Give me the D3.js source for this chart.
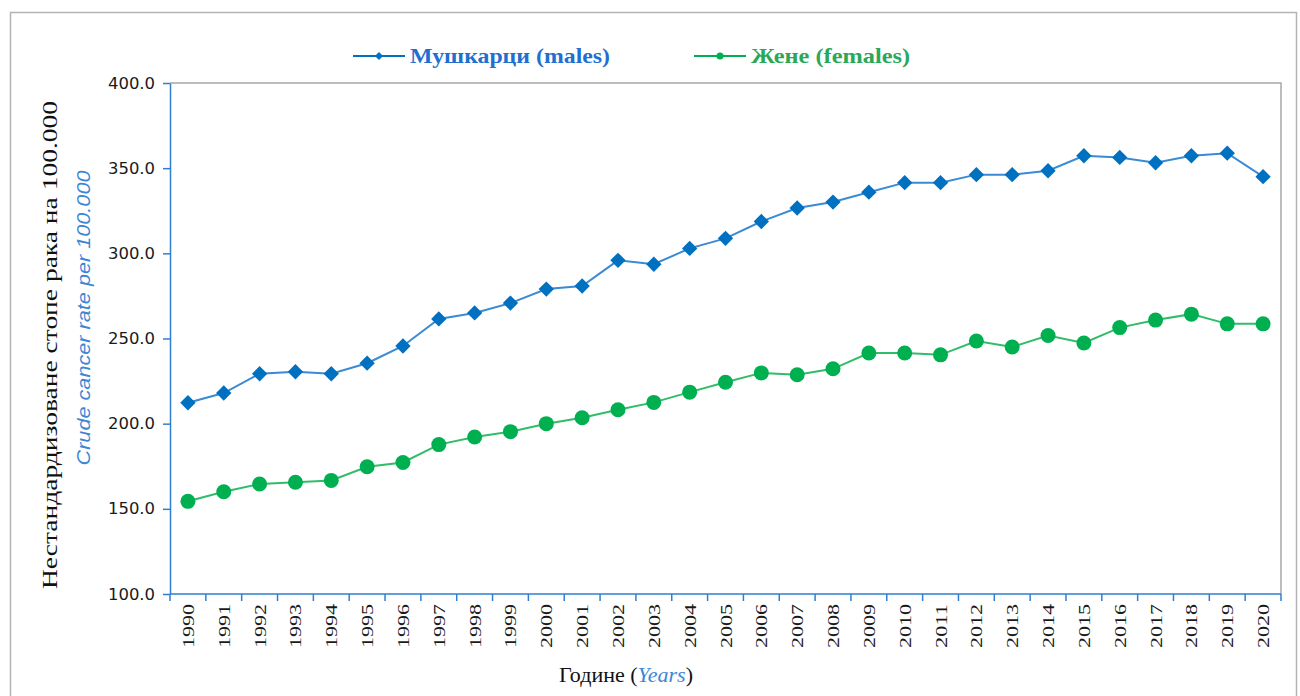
<!DOCTYPE html>
<html>
<head>
<meta charset="utf-8">
<script src="https://cdn.jsdelivr.net/npm/d3@7"></script>
<style>
  body { margin: 0; background: #fff; }
  svg text { font-family: "Liberation Serif", "Times New Roman", serif; }
</style>
</head>
<body>
<svg id="chart"></svg>
<script>
const years = d3.range(1990, 2021).map(String);
const males = [212.3, 218.0, 229.3, 230.5, 229.3, 235.5, 245.6, 261.5, 265.0, 270.8, 279.0, 280.8, 295.9, 293.6, 302.9, 308.8, 318.7, 326.6, 330.1, 335.9, 341.5, 341.5, 346.2, 346.2, 348.5, 357.3, 356.3, 353.2, 357.3, 358.8, 345.0];
const females = [154.4, 160.0, 164.6, 165.6, 166.7, 174.7, 177.2, 187.7, 192.2, 195.3, 200.0, 203.5, 208.2, 212.5, 218.5, 224.3, 229.8, 228.7, 232.2, 241.5, 241.5, 240.4, 248.5, 245.0, 251.8, 247.4, 256.4, 260.8, 264.3, 258.6, 258.6];
const yTicks = [100, 150, 200, 250, 300, 350, 400];
const legendLabels = ["Мушкарци (males)", "Жене (females)"];

const width = 1300;
const height = 696;
const margin = { left: 170, right: 1281, top: 83, bottom: 594 };
const maleColor = "#0070c0";
const femaleColor = "#00b050";
const axisColor = "#2f7fd0";

const svg = d3.select("#chart").attr("width", width).attr("height", height);

// outer frame
svg.append("rect")
  .attr("x", 10.5).attr("y", 12.5)
  .attr("width", 1286).attr("height", 700)
  .attr("fill", "none").attr("stroke", "#b4b4b4").attr("stroke-width", 1.5);

const x = d3.scaleBand().domain(years).range([margin.left, margin.right]);
const y = d3.scaleLinear().domain([100, 400]).range([margin.bottom, margin.top]);

// top and right plot borders
svg.append("path")
  .attr("d", `M${margin.left},${margin.top}H${margin.right}V${margin.bottom}`)
  .attr("fill", "none").attr("stroke", "#a8a8a8").attr("stroke-width", 1.5);

// y axis
const yAxis = svg.append("g")
  .attr("transform", `translate(${margin.left},0)`)
  .call(d3.axisLeft(y).tickValues(yTicks).tickFormat(d3.format(".1f")).tickSize(7).tickSizeOuter(0).tickPadding(8));
yAxis.select(".domain").attr("stroke", axisColor).attr("stroke-width", 1.5);
yAxis.selectAll(".tick line").attr("stroke", axisColor).attr("stroke-width", 1.5);
yAxis.selectAll(".tick text")
  .attr("fill", "#1a1a1a")
  .style("font-family", "'DejaVu Sans', sans-serif")
  .style("font-size", "16px")
  .attr("textLength", 47)
  .attr("lengthAdjust", "spacingAndGlyphs");

// x axis: ticks at band boundaries
const xAxisG = svg.append("g").attr("transform", `translate(0,${margin.bottom})`);
xAxisG.append("line")
  .attr("x1", margin.left).attr("x2", margin.right)
  .attr("stroke", axisColor).attr("stroke-width", 1.5);
const bounds = years.map((d) => x(d)).concat([x.range()[1]]);
xAxisG.selectAll("line.tick")
  .data(bounds)
  .enter()
  .append("line")
  .attr("class", "tick")
  .attr("x1", (d) => d).attr("x2", (d) => d)
  .attr("y1", 0).attr("y2", 7)
  .attr("stroke", axisColor).attr("stroke-width", 1.5);
xAxisG.selectAll("text")
  .data(years)
  .enter()
  .append("text")
  .attr("transform", (d) => `translate(${x(d) + x.bandwidth() / 2 + 6},10) rotate(-90)`)
  .attr("text-anchor", "end")
  .attr("fill", "#1a1a1a")
  .style("font-size", "17px")
  .attr("textLength", 44)
  .attr("lengthAdjust", "spacingAndGlyphs")
  .text((d) => d);

// series
const cx = (d, i) => x(years[i]) + x.bandwidth() / 2;
const line = d3.line().x((d, i) => cx(d, i)).y((d) => y(d));

svg.append("path").datum(males)
  .attr("d", line).attr("fill", "none")
  .attr("stroke", "#3a8ad4").attr("stroke-width", 2);
svg.append("path").datum(females)
  .attr("d", line).attr("fill", "none")
  .attr("stroke", "#2fbd68").attr("stroke-width", 2);

const diamond = d3.symbol().type(d3.symbolDiamond2).size(150);
svg.selectAll("path.male")
  .data(males)
  .enter()
  .append("path")
  .attr("class", "male")
  .attr("d", diamond)
  .attr("transform", (d, i) => `translate(${cx(d, i)},${y(d)})`)
  .attr("fill", maleColor);

svg.selectAll("circle.female")
  .data(females)
  .enter()
  .append("circle")
  .attr("class", "female")
  .attr("cx", (d, i) => cx(d, i))
  .attr("cy", (d) => y(d))
  .attr("r", 7.5)
  .attr("fill", femaleColor);

// legend
const legend = [
  { label: legendLabels[0], color: maleColor, text: "#1f6fd0", lx: 353, len: 200 },
  { label: legendLabels[1], color: femaleColor, text: "#2aa858", lx: 694, len: 159 }
];
legend.forEach((l, i) => {
  const g = svg.append("g").attr("transform", `translate(${l.lx},56)`);
  g.append("line").attr("x1", 0).attr("x2", 52).attr("stroke", l.color).attr("stroke-width", 2);
  if (i === 0) {
    g.append("path").attr("d", d3.symbol().type(d3.symbolDiamond2).size(40)).attr("transform", "translate(26,0)").attr("fill", l.color);
  } else {
    g.append("circle").attr("cx", 26).attr("r", 3.5).attr("fill", l.color);
  }
  g.append("text")
    .attr("x", 57).attr("y", 7)
    .attr("fill", l.text)
    .style("font-size", "21px")
    .style("font-weight", "bold")
    .attr("textLength", l.len)
    .attr("lengthAdjust", "spacingAndGlyphs")
    .text(l.label);
});

// y title
const yTitle = svg.append("g").attr("transform", "rotate(-90)");
yTitle.append("text")
  .attr("x", -345).attr("y", 57)
  .attr("text-anchor", "middle")
  .attr("fill", "#111")
  .style("font-size", "21px")
  .attr("textLength", 488)
  .attr("lengthAdjust", "spacingAndGlyphs")
  .text("Нестандардизоване  стопе рака на 100.000");
yTitle.append("text")
  .attr("x", -318).attr("y", 90)
  .attr("text-anchor", "middle")
  .attr("fill", "#3d86d4")
  .style("font-family", "'Liberation Sans', sans-serif")
  .style("font-style", "italic")
  .style("font-size", "19px")
  .attr("textLength", 295)
  .attr("lengthAdjust", "spacingAndGlyphs")
  .text("Crude cancer rate per 100.000");

// x title
const xTitle = svg.append("text")
  .attr("x", 626).attr("y", 682)
  .attr("text-anchor", "middle")
  .attr("fill", "#111")
  .style("font-size", "22px");
xTitle.append("tspan").text("Године (");
xTitle.append("tspan").attr("fill", "#3d86d4").style("font-style", "italic").text("Years");
xTitle.append("tspan").text(")");
</script>
</body>
</html>
